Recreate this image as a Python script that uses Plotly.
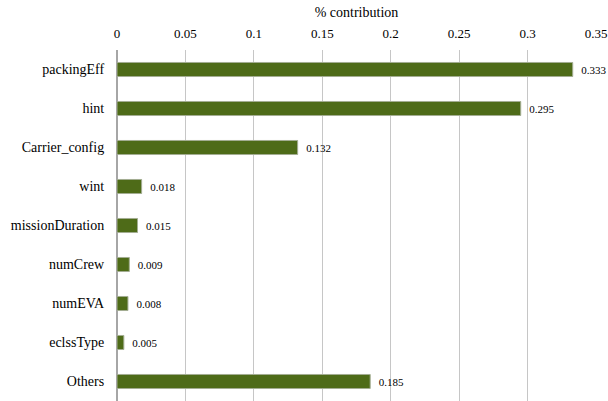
import plotly.graph_objects as go

# Contribution of each design variable
variables = ["packingEff", "hint", "Carrier_config", "wint", "missionDuration",
             "numCrew", "numEVA", "eclssType", "Others"]
contribution = [0.333, 0.295, 0.132, 0.018, 0.015, 0.009, 0.008, 0.005, 0.185]
x_ticks = [0, 0.05, 0.1, 0.15, 0.2, 0.25, 0.3, 0.35]
x_tick_labels = ["0", "0.05", "0.1", "0.15", "0.2", "0.25", "0.3", "0.35"]

SERIF = "Times New Roman, Liberation Serif, serif"

fig = go.Figure(
    go.Bar(
        x=contribution,
        y=variables,
        orientation="h",
        marker=dict(color="#4E6B18", line=dict(color="#A3AD93", width=1)),
        width=0.36,
        texttemplate="  %{x:.3f}",
        textposition="outside",
        textfont=dict(family=SERIF, size=11, color="#000000"),
        constraintext="none",
        cliponaxis=False,
    )
)

fig.update_layout(
    width=608,
    height=401,
    margin=dict(l=117, r=12, t=50, b=0),
    paper_bgcolor="white",
    plot_bgcolor="white",
    showlegend=False,
    font=dict(family=SERIF, color="#000000"),
    xaxis=dict(
        side="top",
        range=[0, 0.35],
        tickvals=x_ticks,
        ticktext=x_tick_labels,
        tickfont=dict(family=SERIF, size=13, color="#000000"),
        showgrid=True,
        gridcolor="#C6C6C6",
        gridwidth=1,
        zeroline=True,
        zerolinecolor="#A6A6A6",
        zerolinewidth=2,
        showline=False,
        ticks="outside",
        ticklen=6,
        tickcolor="rgba(0,0,0,0)",
        title=dict(text="% contribution", font=dict(family=SERIF, size=14), standoff=4),
    ),
    yaxis=dict(
        autorange="reversed",
        tickfont=dict(family=SERIF, size=14, color="#000000"),
        showgrid=False,
        showline=False,
        ticks="outside",
        ticklen=9,
        tickcolor="rgba(0,0,0,0)",
    ),
)

fig.write_html("out.html")
